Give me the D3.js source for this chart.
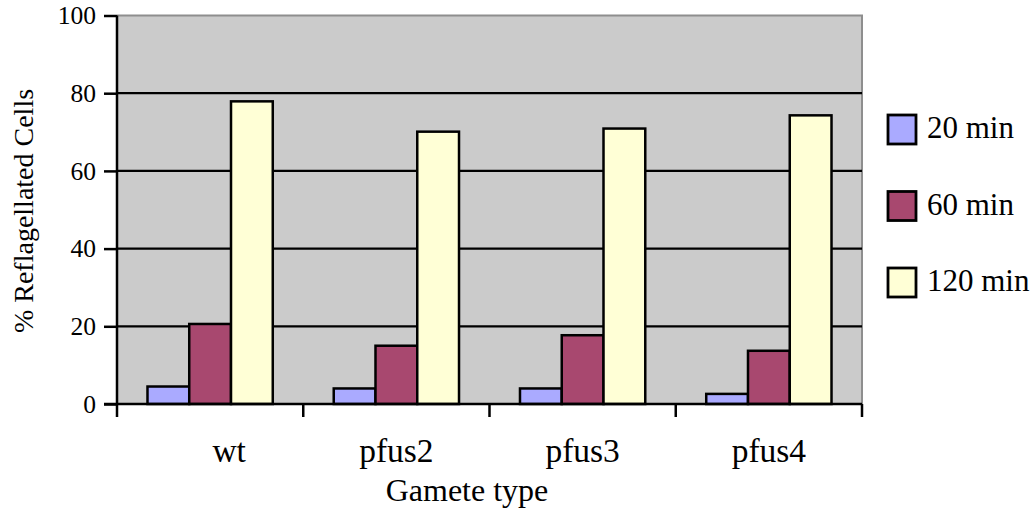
<!DOCTYPE html>
<html>
<head>
<meta charset="utf-8">
<script src="https://cdn.jsdelivr.net/npm/d3@7"></script>
<style>
  html, body { margin: 0; padding: 0; background: #ffffff; }
  svg { display: block; font-family: "Liberation Serif", "Times New Roman", serif; }
</style>
</head>
<body>
<svg id="chart" width="1036" height="511"></svg>
<script>
// Reflagellation after gamete activation, by gamete type and time point
const categories = ["wt", "pfus2", "pfus3", "pfus4"];
const seriesNames = ["20 min", "60 min", "120 min"];
const values20 = [4.5, 4.0, 4.0, 2.6];
const values60 = [20.6, 15.0, 17.7, 13.7];
const values120 = [77.9, 70.1, 70.9, 74.3];
const yTicks = [0, 20, 40, 60, 80, 100];
const colors = ["#aaaaff", "#a8486f", "#ffffd6"];

const seriesValues = [values20, values60, values120];
const serif = "Liberation Serif, Times New Roman, serif";

const svg = d3.select("#chart");
const plot = { left: 117, right: 862, top: 15.5, bottom: 404 };

const x = d3.scaleBand().domain(categories).range([plot.left, plot.right]).padding(0);
const y = d3.scaleLinear().domain([0, 100]).range([plot.bottom, plot.top]);
const inner = d3.scaleBand().domain(seriesNames)
  .range([0, x.bandwidth()]).paddingInner(0).paddingOuter(0.73);

// plot background
svg.append("rect")
  .attr("x", plot.left).attr("y", plot.top)
  .attr("width", plot.right - plot.left).attr("height", plot.bottom - plot.top)
  .attr("fill", "#cbcbcb");

// gray frame on top and right
svg.append("path")
  .attr("d", `M${plot.left},${plot.top}H${plot.right}V${plot.bottom}`)
  .attr("fill", "none").attr("stroke", "#8e8e8e").attr("stroke-width", 2);

// horizontal gridlines
svg.append("g").selectAll("line")
  .data(yTicks.filter(d => d > 0 && d < 100))
  .join("line")
  .attr("x1", plot.left).attr("x2", plot.right)
  .attr("y1", d => y(d)).attr("y2", d => y(d))
  .attr("stroke", "#000").attr("stroke-width", 2.2);

// bars
const groups = svg.append("g").selectAll("g")
  .data(categories)
  .join("g")
  .attr("transform", c => `translate(${x(c)},0)`);

groups.selectAll("rect")
  .data((c, i) => seriesNames.map((s, k) => ({ s, k, v: seriesValues[k][i] })))
  .join("rect")
  .attr("x", d => inner(d.s))
  .attr("width", inner.bandwidth())
  .attr("y", d => y(d.v))
  .attr("height", d => y(0) - y(d.v))
  .attr("fill", d => colors[d.k])
  .attr("stroke", "#000")
  .attr("stroke-width", 2.5);

// y axis
const yAxis = svg.append("g")
  .attr("transform", `translate(${plot.left},0)`)
  .call(d3.axisLeft(y).tickValues(yTicks).tickSize(13).tickPadding(8).tickFormat(d3.format("d")));
yAxis.select(".domain").attr("stroke-width", 2.5).attr("d", `M0,${plot.top}V${plot.bottom}`);
yAxis.selectAll(".tick line").attr("stroke-width", 2.5);
yAxis.selectAll(".tick text")
  .attr("font-size", 25.5).attr("fill", "#000")
  .attr("font-family", serif);

// x axis
const xTickPositions = categories.map(c => x(c)).concat([plot.right]);
const xAxisG = svg.append("g");
xAxisG.append("line")
  .attr("x1", plot.left - 13).attr("x2", plot.right)
  .attr("y1", plot.bottom).attr("y2", plot.bottom)
  .attr("stroke", "#000").attr("stroke-width", 2.5);
xAxisG.selectAll("line.tick")
  .data(xTickPositions)
  .join("line")
  .attr("class", "tick")
  .attr("x1", d => d).attr("x2", d => d)
  .attr("y1", plot.bottom).attr("y2", plot.bottom + 13)
  .attr("stroke", "#000").attr("stroke-width", 2.5);
xAxisG.selectAll("text")
  .data(categories)
  .join("text")
  .attr("x", c => x(c) + x.bandwidth() / 2 + (c === "wt" ? 19 : 0))
  .attr("y", 462)
  .attr("text-anchor", "middle")
  .attr("font-size", 33.5)
  .attr("font-family", serif)
  .text(c => c);

// axis titles
svg.append("text")
  .attr("x", 467).attr("y", 501)
  .attr("text-anchor", "middle")
  .attr("font-size", 32)
  .attr("font-family", serif)
  .text("Gamete type");

svg.append("text")
  .attr("transform", "translate(33,211) rotate(-90)")
  .attr("text-anchor", "middle")
  .attr("font-size", 28)
  .attr("font-family", serif)
  .text("% Reflagellated Cells");

// legend
const legend = svg.append("g").selectAll("g")
  .data(seriesNames)
  .join("g")
  .attr("transform", (d, i) => `translate(888,${115 + i * 76.5})`);
legend.append("rect")
  .attr("width", 28).attr("height", 29)
  .attr("fill", (d, i) => colors[i])
  .attr("stroke", "#000").attr("stroke-width", 2.8);
legend.append("text")
  .attr("x", 39).attr("y", 23)
  .attr("font-size", 31)
  .attr("font-family", serif)
  .text(d => d);
</script>
</body>
</html>
